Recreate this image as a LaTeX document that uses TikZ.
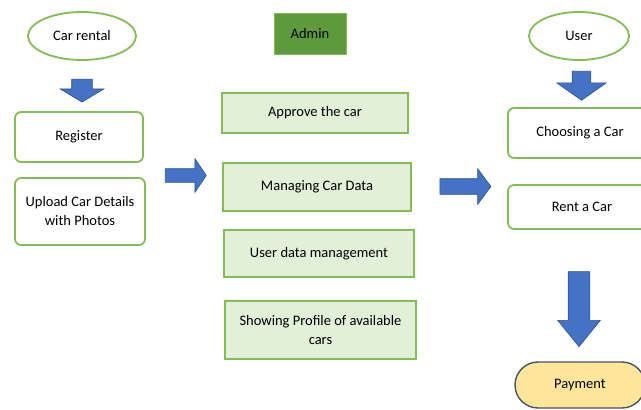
\documentclass[tikz,border=0pt]{standalone}
\usepackage{fontspec}
\setmainfont{Carlito}
\usetikzlibrary{shapes.geometric,shapes.arrows,positioning}
\definecolor{boxgreen}{HTML}{84BC55}
\definecolor{palegreen}{HTML}{E2EFD9}
\definecolor{admingreen}{HTML}{5E9A3C}
\definecolor{arrowblue}{HTML}{4472C4}
\definecolor{arrowedge}{HTML}{2F528F}
\definecolor{payyellow}{HTML}{FFE699}
\definecolor{payedge}{HTML}{44546A}

\begin{document}
\begin{tikzpicture}
  [x=1pt,y=-1pt,font=\fontsize{14.5}{19}\selectfont,
   actor/.style={ellipse,draw=boxgreen,line width=1.8pt,minimum width=108pt,minimum height=48pt},
   stepbox/.style={draw=boxgreen,line width=1.8pt,rounded corners=6pt,align=center},
   taskbox/.style={draw=boxgreen,line width=1.8pt,fill=palegreen,align=center},
   blockarrow/.style={single arrow,draw=arrowedge,fill=arrowblue,line width=.6pt,
     inner xsep=0pt,single arrow head indent=0pt}]
  \useasboundingbox (0,0) rectangle (641,410);
  \clip (0,0) rectangle (641,410);

  % owner side
  \node[actor] (rental) at (82,36) {Car rental};
  \node[blockarrow,rotate=-90,inner ysep=10pt,minimum height=23pt,minimum width=43pt,
    single arrow head extend=11.5pt,single arrow tip angle=118] (a1) at (82,87.5) {};
  \node[stepbox,minimum width=128pt,minimum height=50pt] (register) at (79,137) {Register};
  \node[stepbox,minimum width=130pt,minimum height=67pt] (upload) at (80,211.5) {Upload Car Details\\with Photos};
  \node[blockarrow,inner ysep=6.5pt,minimum height=41pt,minimum width=33pt,
    single arrow head extend=10pt,single arrow tip angle=112] (a2) at (183.5,175.5) {};

  % admin side
  \node[draw=boxgreen,fill=admingreen,minimum width=72pt,minimum height=41pt] (admin) at (310,33.5) {Admin};
  \node[taskbox,minimum width=186pt,minimum height=40pt] (approve) at (315,113) {Approve the car};
  \node[taskbox,minimum width=188pt,minimum height=48pt] (managing) at (317,187) {Managing Car Data};
  \node[taskbox,minimum width=190pt,minimum height=47pt] (userdata) at (319,253.5) {User data management};
  \node[taskbox,minimum width=191pt,minimum height=58pt] (profile) at (320.5,330) {Showing Profile of available\\cars};
  \node[blockarrow,inner ysep=7.5pt,minimum height=51pt,minimum width=35pt,
    single arrow head extend=10pt,single arrow tip angle=107] (a3) at (462.5,186.5) {};

  % user side
  \node[actor,minimum width=100pt] (user) at (579,36) {User};
  \node[blockarrow,rotate=-90,inner ysep=9pt,minimum height=29pt,minimum width=49pt,
    single arrow head extend=15.5pt,single arrow tip angle=110] (a4) at (581.5,82.5) {};
  \node[stepbox,minimum width=144pt,minimum height=50pt] (choosing) at (580,133) {Choosing a Car};
  \node[stepbox,minimum width=148pt,minimum height=44pt] (rent) at (582,207) {Rent a Car};
  \node[blockarrow,rotate=-90,inner ysep=10.5pt,minimum height=75pt,minimum width=42pt,
    single arrow head extend=10.5pt,single arrow tip angle=78] (a5) at (579,302.5) {};
  \node[draw=payedge,fill=payyellow,line width=1.4pt,rounded corners=23pt,
    minimum width=130pt,minimum height=46pt] (payment) at (580,385) {Payment};
\end{tikzpicture}
\end{document}
